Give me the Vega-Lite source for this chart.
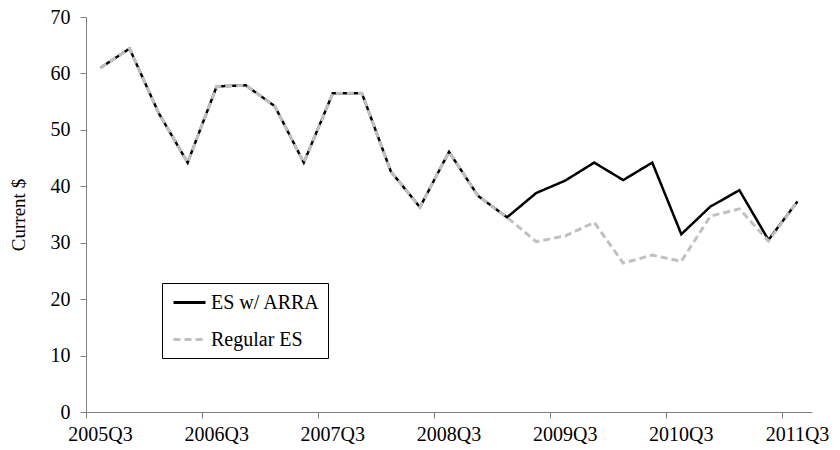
{
  "$schema": "https://vega.github.io/schema/vega-lite/v6.json",
  "width": 726,
  "height": 395,
  "autosize": "none",
  "padding": {"left": 86, "top": 17, "right": 28, "bottom": 38},
  "background": "white",
  "config": {
    "view": {"stroke": null},
    "font": "Liberation Serif",
    "axis": {"labelFont": "Liberation Serif", "titleFont": "Liberation Serif"},
    "legend": {
      "orient": "none",
      "legendX": 76,
      "legendY": 266,
      "strokeColor": "black",
      "padding": 8,
      "symbolType": "M-0.8,0H2.4",
      "symbolSize": 400,
      "symbolStrokeWidth": 3,
      "symbolFillColor": "transparent",
      "labelFontSize": 20,
      "labelColor": "black",
      "rowPadding": 15,
      "labelOffset": 18,
      "labelFont": "Liberation Serif"
    }
  },
  "data": {
    "values": [
      {"q": "2005Q3", "series": "ES w/ ARRA", "value": 61.0},
      {"q": "2005Q4", "series": "ES w/ ARRA", "value": 64.4},
      {"q": "2006Q1", "series": "ES w/ ARRA", "value": 53.0},
      {"q": "2006Q2", "series": "ES w/ ARRA", "value": 44.2},
      {"q": "2006Q3", "series": "ES w/ ARRA", "value": 57.7},
      {"q": "2006Q4", "series": "ES w/ ARRA", "value": 57.9},
      {"q": "2007Q1", "series": "ES w/ ARRA", "value": 54.2},
      {"q": "2007Q2", "series": "ES w/ ARRA", "value": 44.2},
      {"q": "2007Q3", "series": "ES w/ ARRA", "value": 56.5},
      {"q": "2007Q4", "series": "ES w/ ARRA", "value": 56.5},
      {"q": "2008Q1", "series": "ES w/ ARRA", "value": 42.6},
      {"q": "2008Q2", "series": "ES w/ ARRA", "value": 36.3},
      {"q": "2008Q3", "series": "ES w/ ARRA", "value": 46.1},
      {"q": "2008Q4", "series": "ES w/ ARRA", "value": 38.3},
      {"q": "2009Q1", "series": "ES w/ ARRA", "value": 34.5},
      {"q": "2009Q2", "series": "ES w/ ARRA", "value": 38.8},
      {"q": "2009Q3", "series": "ES w/ ARRA", "value": 41.0},
      {"q": "2009Q4", "series": "ES w/ ARRA", "value": 44.2},
      {"q": "2010Q1", "series": "ES w/ ARRA", "value": 41.1},
      {"q": "2010Q2", "series": "ES w/ ARRA", "value": 44.2},
      {"q": "2010Q3", "series": "ES w/ ARRA", "value": 31.5},
      {"q": "2010Q4", "series": "ES w/ ARRA", "value": 36.4},
      {"q": "2011Q1", "series": "ES w/ ARRA", "value": 39.3},
      {"q": "2011Q2", "series": "ES w/ ARRA", "value": 30.5},
      {"q": "2011Q3", "series": "ES w/ ARRA", "value": 37.3},
      {"q": "2005Q3", "series": "Regular ES", "value": 61.0},
      {"q": "2005Q4", "series": "Regular ES", "value": 64.4},
      {"q": "2006Q1", "series": "Regular ES", "value": 53.0},
      {"q": "2006Q2", "series": "Regular ES", "value": 44.2},
      {"q": "2006Q3", "series": "Regular ES", "value": 57.7},
      {"q": "2006Q4", "series": "Regular ES", "value": 57.9},
      {"q": "2007Q1", "series": "Regular ES", "value": 54.2},
      {"q": "2007Q2", "series": "Regular ES", "value": 44.2},
      {"q": "2007Q3", "series": "Regular ES", "value": 56.5},
      {"q": "2007Q4", "series": "Regular ES", "value": 56.5},
      {"q": "2008Q1", "series": "Regular ES", "value": 42.6},
      {"q": "2008Q2", "series": "Regular ES", "value": 36.3},
      {"q": "2008Q3", "series": "Regular ES", "value": 46.1},
      {"q": "2008Q4", "series": "Regular ES", "value": 38.3},
      {"q": "2009Q1", "series": "Regular ES", "value": 34.5},
      {"q": "2009Q2", "series": "Regular ES", "value": 30.2},
      {"q": "2009Q3", "series": "Regular ES", "value": 31.2},
      {"q": "2009Q4", "series": "Regular ES", "value": 33.6},
      {"q": "2010Q1", "series": "Regular ES", "value": 26.4},
      {"q": "2010Q2", "series": "Regular ES", "value": 27.8},
      {"q": "2010Q3", "series": "Regular ES", "value": 26.7},
      {"q": "2010Q4", "series": "Regular ES", "value": 34.7},
      {"q": "2011Q1", "series": "Regular ES", "value": 36.0},
      {"q": "2011Q2", "series": "Regular ES", "value": 30.3},
      {"q": "2011Q3", "series": "Regular ES", "value": 37.3}
    ]
  },
  "encoding": {
    "x": {
      "field": "q",
      "type": "ordinal",
      "sort": null,
      "scale": {"type": "band", "paddingInner": 0, "paddingOuter": 0},
      "axis": {
        "title": null,
        "bandPosition": 0,
        "values": ["2005Q3", "2006Q3", "2007Q3", "2008Q3", "2009Q3", "2010Q3", "2011Q3"],
        "labelAngle": 0,
        "grid": false,
        "domainColor": "#808080",
        "tickColor": "#808080",
        "tickSize": 6,
        "labelFontSize": 20,
        "labelColor": "black",
        "labelPadding": 6
      }
    },
    "y": {
      "field": "value",
      "type": "quantitative",
      "scale": {"domain": [0, 70]},
      "axis": {
        "title": "Current $",
        "values": [0, 10, 20, 30, 40, 50, 60, 70],
        "grid": false,
        "domainColor": "#808080",
        "tickColor": "#808080",
        "tickSize": 6,
        "labelFontSize": 20,
        "labelColor": "black",
        "labelPadding": 10,
        "titleFontSize": 19,
        "titleFontWeight": "normal",
        "titleColor": "black",
        "titlePadding": 22
      }
    },
    "color": {
      "field": "series",
      "type": "nominal",
      "title": null,
      "scale": {"domain": ["ES w/ ARRA", "Regular ES"], "range": ["#000000", "#c0c0c0"]}
    },
    "strokeDash": {
      "field": "series",
      "type": "nominal",
      "title": null,
      "scale": {"domain": ["ES w/ ARRA", "Regular ES"], "range": [[1, 0], [7, 4]]}
    }
  },
  "layer": [
    {
      "transform": [{"filter": "datum.series === 'ES w/ ARRA'"}],
      "mark": {"type": "line", "strokeWidth": 2.5}
    },
    {
      "transform": [{"filter": "datum.series === 'Regular ES'"}],
      "mark": {"type": "line", "strokeWidth": 3}
    }
  ]
}
